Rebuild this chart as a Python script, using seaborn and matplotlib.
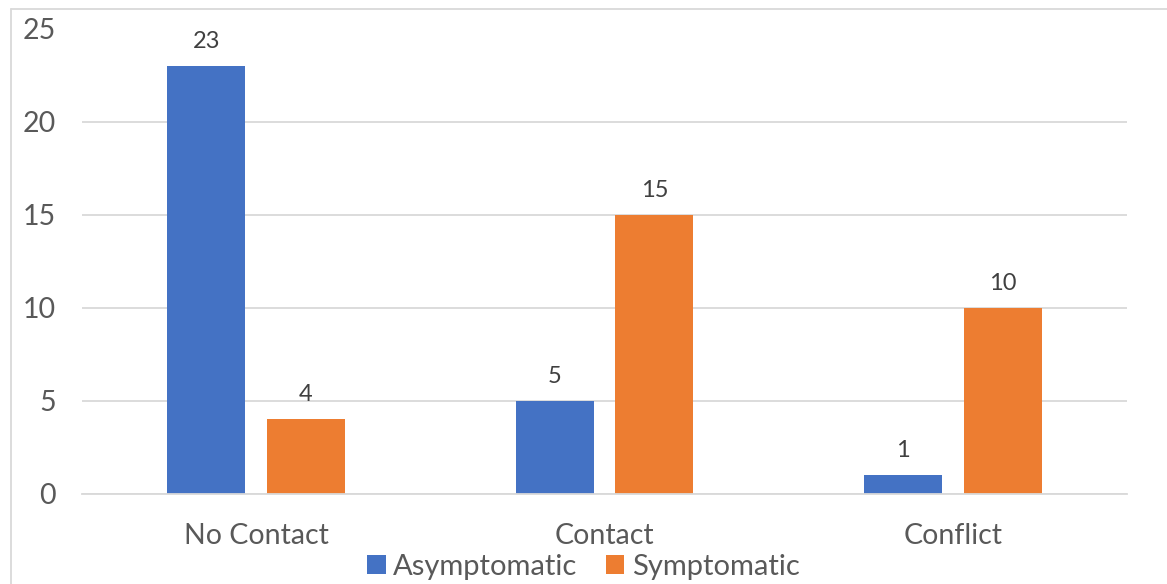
import matplotlib
matplotlib.use("Agg")
import matplotlib.pyplot as plt
from matplotlib.lines import Line2D
import seaborn as sns
import pandas as pd

categories = ["No Contact", "Contact", "Conflict"]
series_names = ["Asymptomatic", "Symptomatic"]
asymptomatic = [23, 5, 1]
symptomatic = [4, 15, 10]
yticks = [0, 5, 10, 15, 20, 25]
colors = ["#4472C4", "#ED7D31"]

df = pd.DataFrame({
    "category": categories * 2,
    "series": [series_names[0]] * 3 + [series_names[1]] * 3,
    "value": asymptomatic + symptomatic,
})

sns.set_style("white")
plt.rcParams["font.family"] = ["Lato", "DejaVu Sans"]
text_color = "#595959"

fig = plt.figure(figsize=(11.67, 5.84), dpi=100)
ax = fig.add_axes([82 / 1167, 90.5 / 584, 1045 / 1167, 465 / 584])

sns.barplot(data=df, x="category", y="value", hue="series", order=categories,
            hue_order=series_names, palette=colors, width=0.572, gap=0.216,
            saturation=1, linewidth=0, ax=ax, legend=True)

for cont in ax.containers:
    ax.bar_label(cont, padding=10, fontsize=17, color="#404040")

ax.set_xlim(-0.5, 2.5)
ax.set_ylim(0, 25)
ax.set_yticks(yticks)
ax.yaxis.grid(True, color="#D9D9D9", linewidth=1.3)
ax.set_axisbelow(True)
for s in ["top", "right", "left"]:
    ax.spines[s].set_visible(False)
ax.spines["bottom"].set_color("#D9D9D9")
ax.spines["bottom"].set_linewidth(1.3)
ax.tick_params(axis="x", length=0, pad=21, labelsize=20.5, labelcolor=text_color)
ax.tick_params(axis="y", length=0, pad=19, labelsize=20.5, labelcolor=text_color)
ax.set_xlabel("")
ax.set_ylabel("")

handles, labels = ax.get_legend_handles_labels()
ax.get_legend().remove()
fig.legend(handles, labels, loc="center", bbox_to_anchor=(0.5, 17 / 584), ncol=2,
           frameon=False, fontsize=21, handlelength=0.62, handleheight=0.62,
           handletextpad=0.25, columnspacing=1.0, labelcolor=text_color,
           borderpad=0)

fig.add_artist(Line2D([11 / 1167, 1], [1 - 9 / 584, 1 - 9 / 584], transform=fig.transFigure,
                      color="#D9D9D9", linewidth=1.3))
fig.add_artist(Line2D([11 / 1167, 11 / 1167], [0, 1 - 9 / 584], transform=fig.transFigure,
                      color="#D9D9D9", linewidth=1.3))

fig.savefig("out.png", dpi=100)
